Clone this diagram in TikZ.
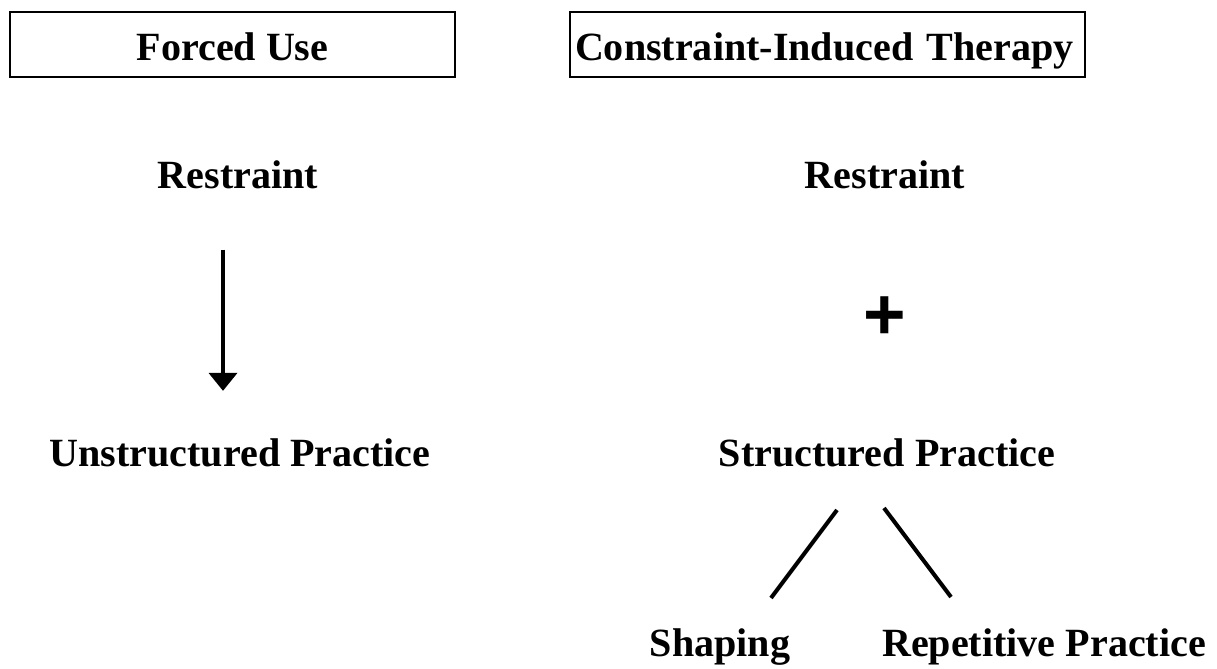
\documentclass[tikz,border=0pt]{standalone}
\usepackage{fontspec}
\setmainfont{Liberation Serif}
\newfontfamily\plusfont{Liberation Sans}
\usetikzlibrary{positioning, arrows.meta}

\begin{document}
\begin{tikzpicture}[
    x=0.02cm, y=-0.02cm,
    headbox/.style={draw, line width=1.1pt, minimum height=1.3cm, inner sep=0pt,
        text height=0.66cm, text depth=0pt, font=\fontsize{22.8}{27}\selectfont\bfseries},
    lbl/.style={inner sep=0pt, anchor=base, font=\fontsize{22.8}{27}\selectfont\bfseries},
    arr/.style={-{Triangle[length=0.36cm, width=0.56cm]}, line width=2.2pt},
    leg/.style={line width=2.3pt}
]
\useasboundingbox (0,0) rectangle (1217,669);

% Ueberschriften
\node[headbox, minimum width=8.9cm] (fu) at (232.5, 44.5) {Forced Use};
\node[headbox, text width=10.1cm, align=left, inner xsep=0.1cm] (cit) at (827.5, 44.5) {Constraint-Induced Therapy};

% linke Seite
\node[lbl] (rl) at (238, 188) {Restraint};
\node[lbl] (ul) at (240, 466) {Unstructured Practice};

% rechte Seite
\node[lbl] (rr) at (885, 188) {Restraint};
\node[inner sep=0pt, font=\fontsize{41.5}{45}\selectfont\plusfont\bfseries] (plus) at (885, 318) {+};
\node[lbl] (sp) at (887, 466) {Structured Practice};
\node[lbl] (sh) at (720, 656) {Shaping};
\node[lbl] (rp) at (1044, 656) {Repetitive Practice};

% Pfeil links
\draw[arr, shorten <=1.22cm, shorten >=0.94cm] ([xshift=-0.3cm]rl.south) -- ([xshift=-0.3cm]rl.south |- ul.north);

% Verzweigung unter Structured Practice
\coordinate (s1) at (837, 510);
\coordinate (s2) at (771, 598);
\coordinate (r1) at (884, 508);
\coordinate (r2) at (951, 597);
\draw[leg] (s1) -- (s2);
\draw[leg] (r1) -- (r2);

\end{tikzpicture}
\end{document}
